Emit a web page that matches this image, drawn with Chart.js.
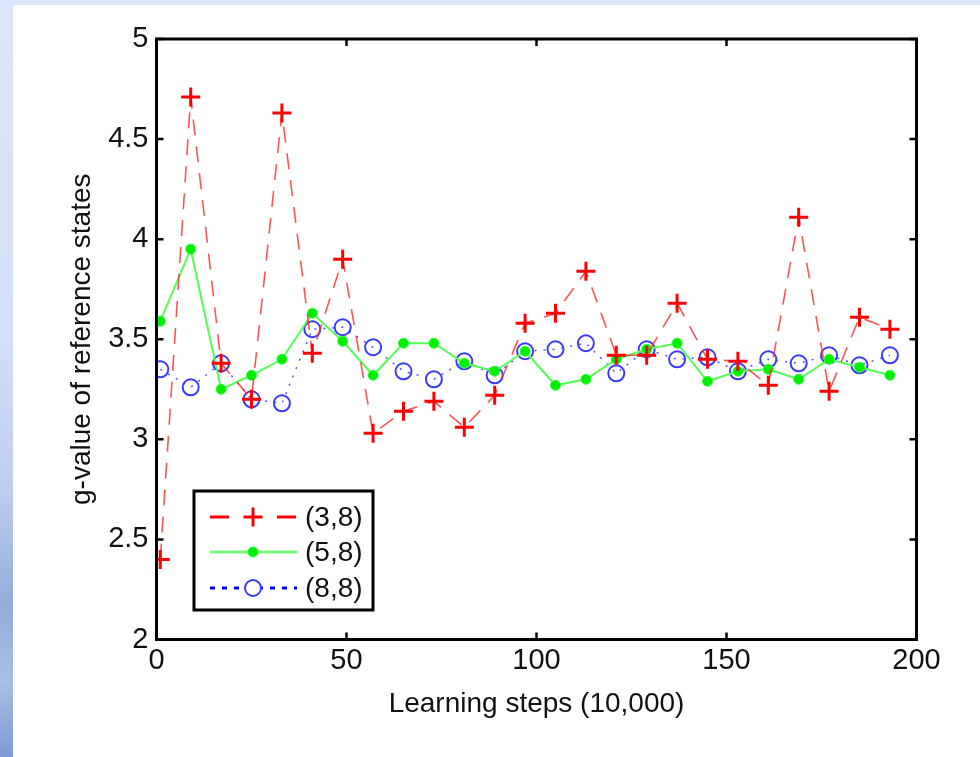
<!DOCTYPE html>
<html>
<head>
<meta charset="utf-8">
<script src="https://cdn.jsdelivr.net/npm/chart.js@4"></script>
<style>
  html, body { margin: 0; padding: 0; }
  body { width: 980px; height: 757px; overflow: hidden; position: relative; background: #dce6fa; }
  #strip { position: absolute; left: 0; top: 0; width: 13px; height: 757px;
    background: linear-gradient(to bottom, #dce6fa 0%, #d3dff7 45%, #bccdee 65%, #93acdb 80%, #aabfe6 90%, #7e9bd2 100%); }
  #sheet { position: absolute; left: 13px; top: 5px; right: 0; bottom: 0; background: #fff; }
  #chart { position: absolute; left: 0; top: 0; }
</style>
</head>
<body>
<div id="strip"></div>
<div id="sheet"></div>
<canvas id="chart" width="980" height="757"></canvas>
<script>
// learning steps (x 10,000) at which the g-values were sampled
const steps = [1, 9, 17, 25, 33, 41, 49, 57, 65, 73, 81, 89, 97, 105, 113, 121, 129, 137, 145, 153, 161, 169, 177, 185, 193];

// g-value of reference states, one array per (m,n) setting
const g38 = [2.40, 4.71, 3.38, 3.20, 4.63, 3.43, 3.90, 3.03, 3.14, 3.19, 3.06, 3.22, 3.58, 3.63, 3.84, 3.42, 3.42, 3.68, 3.40, 3.39, 3.27, 4.11, 3.24, 3.61, 3.55];
const g58 = [3.59, 3.95, 3.25, 3.32, 3.40, 3.63, 3.49, 3.32, 3.48, 3.48, 3.38, 3.34, 3.44, 3.27, 3.30, 3.40, 3.45, 3.48, 3.29, 3.34, 3.35, 3.30, 3.40, 3.36, 3.32];
const g88 = [3.35, 3.26, 3.38, 3.20, 3.18, 3.55, 3.56, 3.46, 3.34, 3.30, 3.39, 3.32, 3.44, 3.45, 3.48, 3.33, 3.45, 3.40, 3.41, 3.34, 3.40, 3.38, 3.42, 3.37, 3.42];

const seriesNames = ['(3,8)', '(5,8)', '(8,8)'];
const xTicks = [0, 50, 100, 150, 200];
const yTicks = [2, 2.5, 3, 3.5, 4, 4.5, 5];

const FONT = "'Liberation Sans', Arial, sans-serif";
const pts = vals => vals.map((v, i) => ({ x: steps[i], y: v }));

// matlab style box with inward ticks on all four sides
const framePlugin = {
  id: 'frame',
  afterDatasetsDraw(chart) {
    const { ctx, chartArea: a, scales: { x, y } } = chart;
    ctx.save();
    ctx.strokeStyle = '#000';
    ctx.lineWidth = 3;
    ctx.strokeRect(a.left, a.top, a.right - a.left, a.bottom - a.top);
    ctx.lineWidth = 2.5;
    ctx.beginPath();
    x.ticks.forEach(t => {
      const px = x.getPixelForValue(t.value);
      ctx.moveTo(px, a.bottom); ctx.lineTo(px, a.bottom - 7);
      ctx.moveTo(px, a.top); ctx.lineTo(px, a.top + 7);
    });
    y.ticks.forEach(t => {
      const py = y.getPixelForValue(t.value);
      ctx.moveTo(a.left, py); ctx.lineTo(a.left + 7, py);
      ctx.moveTo(a.right, py); ctx.lineTo(a.right - 7, py);
    });
    ctx.stroke();
    ctx.restore();
  }
};

// legend box in the lower left of the axes
const legendPlugin = {
  id: 'boxLegend',
  afterDraw(chart) {
    const { ctx } = chart;
    const box = { l: 194, t: 491, w: 179, h: 119 };
    const rows = [517, 552, 588];
    const mx = 253;
    ctx.save();
    ctx.fillStyle = '#fff';
    ctx.fillRect(box.l, box.t, box.w, box.h);
    ctx.strokeStyle = '#000';
    ctx.lineWidth = 3;
    ctx.strokeRect(box.l, box.t, box.w, box.h);
    chart.data.datasets.forEach((ds, i) => {
      const y = rows[i];
      const r = ds.pointRadius;
      ctx.save();
      ctx.strokeStyle = ds.legendLine;
      ctx.lineWidth = 3;
      ctx.setLineDash(ds.legendDash);
      ctx.beginPath();
      ctx.moveTo(210, y); ctx.lineTo(297, y);
      ctx.stroke();
      ctx.restore();

      ctx.save();
      ctx.strokeStyle = ds.pointBorderColor;
      ctx.lineWidth = ds.pointBorderWidth;
      ctx.beginPath();
      if (ds.pointStyle === 'cross') {
        ctx.moveTo(mx - r, y); ctx.lineTo(mx + r, y);
        ctx.moveTo(mx, y - r); ctx.lineTo(mx, y + r);
        ctx.stroke();
      } else {
        if (ds.pointBackgroundColor === 'transparent') {
          ctx.fillStyle = '#fff';
        } else {
          ctx.fillStyle = ds.pointBackgroundColor;
        }
        ctx.arc(mx, y, r, 0, Math.PI * 2);
        ctx.fill();
        ctx.stroke();
      }
      ctx.restore();

      ctx.fillStyle = '#111';
      ctx.font = '28px ' + FONT;
      ctx.textBaseline = 'middle';
      ctx.textAlign = 'left';
      ctx.fillText(seriesNames[i], 305, y + 1);
    });
    ctx.restore();
  }
};

new Chart(document.getElementById('chart'), {
  type: 'line',
  data: {
    datasets: [
      {
        label: seriesNames[0], data: pts(g38),
        borderColor: 'rgba(255,40,40,0.8)', borderWidth: 1.6, borderDash: [16, 11],
        pointStyle: 'cross', pointRadius: 9.5, pointBorderWidth: 3,
        pointBorderColor: '#ff0000', pointBackgroundColor: '#ff0000',
        legendLine: '#ff0000', legendDash: [19, 48]
      },
      {
        label: seriesNames[1], data: pts(g58),
        borderColor: '#55ff55', borderWidth: 2,
        pointStyle: 'circle', pointRadius: 5, pointBorderWidth: 1,
        pointBorderColor: '#33ff33', pointBackgroundColor: '#00ee00',
        legendLine: '#77f877', legendDash: []
      },
      {
        label: seriesNames[2], data: pts(g88),
        borderColor: 'rgba(40,40,255,0.8)', borderWidth: 1.5, borderDash: [2, 7],
        pointStyle: 'circle', pointRadius: 8, pointBorderWidth: 2,
        pointBorderColor: '#3a3aff', pointBackgroundColor: 'transparent',
        legendLine: '#0000ff', legendDash: [5, 7]
      }
    ]
  },
  options: {
    responsive: false,
    animation: false,
    devicePixelRatio: 1,
    layout: { padding: { left: 65, top: 39, right: 63.5, bottom: 36 } },
    plugins: { legend: { display: false }, tooltip: { enabled: false } },
    elements: { line: { tension: 0, fill: false } },
    scales: {
      x: {
        type: 'linear', min: 0, max: 200,
        afterFit: s => { s.height = 81.5; },
        afterBuildTicks: s => { s.ticks = xTicks.map(v => ({ value: v })); },
        grid: { display: false, drawTicks: false },
        border: { display: false },
        ticks: { padding: 4, color: '#111', font: { family: FONT, size: 29 }, callback: v => String(v), maxRotation: 0 },
        title: { display: true, text: 'Learning steps (10,000)', color: '#111', padding: 0, font: { family: FONT, size: 28 } }
      },
      y: {
        type: 'linear', min: 2, max: 5,
        afterFit: s => { s.width = 91.5; },
        afterBuildTicks: s => { s.ticks = yTicks.map(v => ({ value: v })); },
        grid: { display: false, drawTicks: false },
        border: { display: false },
        ticks: { padding: 8, color: '#111', font: { family: FONT, size: 29 }, callback: v => String(v) },
        title: { display: true, text: 'g-value of reference states', color: '#111', padding: 0, font: { family: FONT, size: 28 } }
      }
    }
  },
  plugins: [framePlugin, legendPlugin]
});
</script>
</body>
</html>
